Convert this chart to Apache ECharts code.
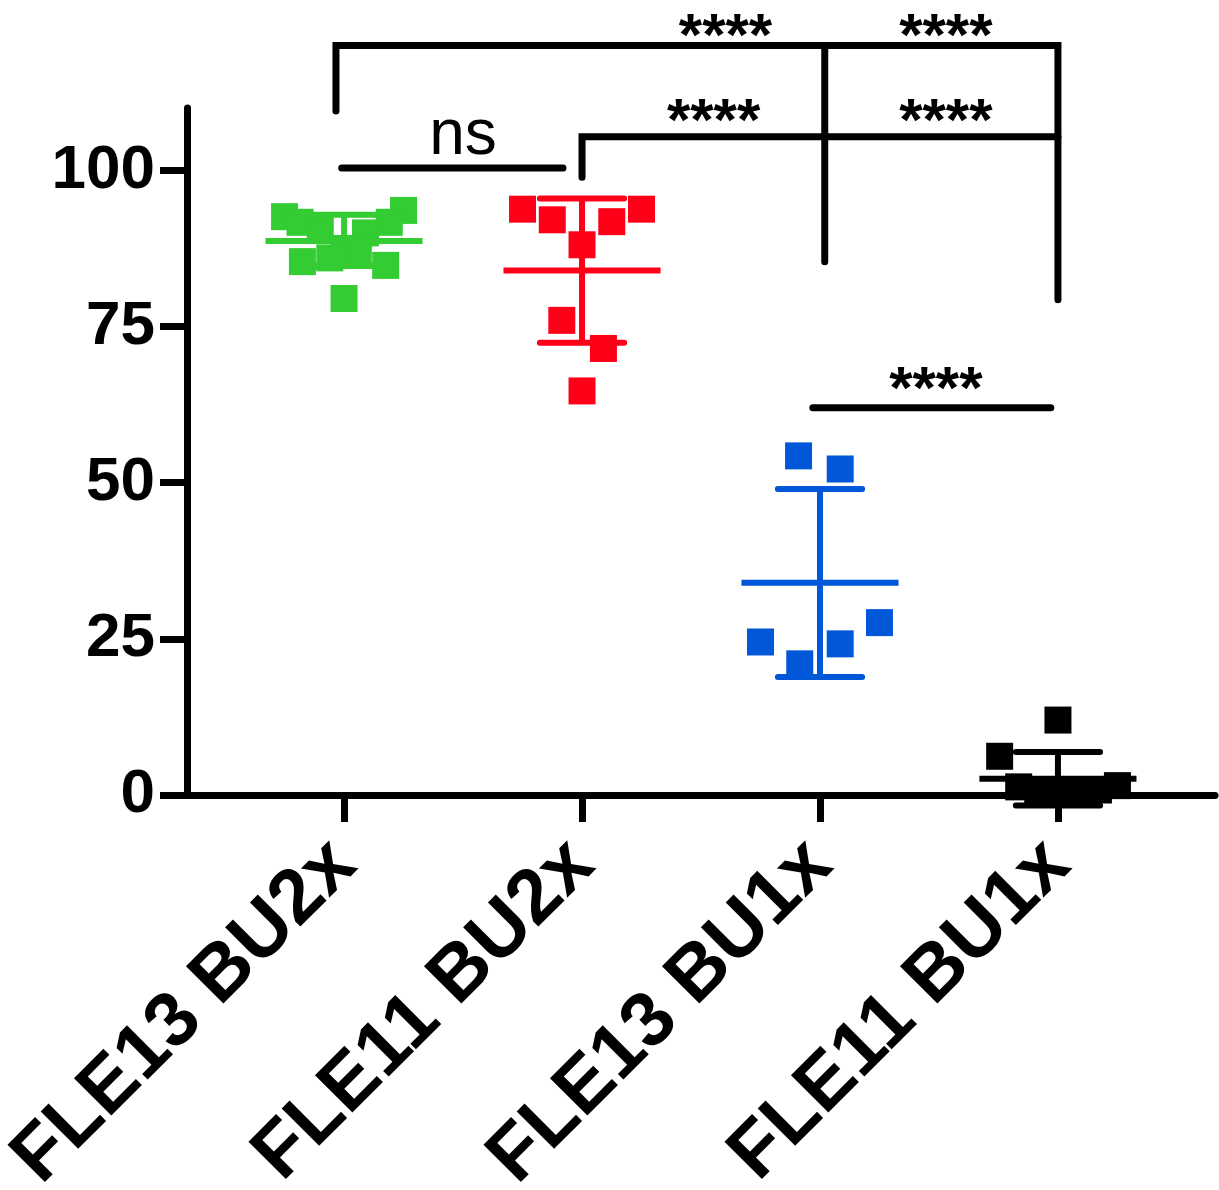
<!DOCTYPE html>
<html>
<head>
<meta charset="utf-8">
<script src="https://cdn.jsdelivr.net/npm/echarts@6/dist/echarts.min.js"></script>
<style>
  html, body { margin: 0; padding: 0; background: #fff; }
  #chart { width: 1219px; height: 1190px; }
</style>
</head>
<body>
<div id="chart"></div>
<script>
// Groups along the x axis (placed at x = 1..4)
const categories = ['FLE13 BU2x', 'FLE11 BU2x', 'FLE13 BU1x', 'FLE11 BU1x'];
const yTickValues = [0, 25, 50, 75, 100];

// Individual measurements per group, with their horizontal scatter offsets
const fle13Bu2xValues = [92.6, 91.7, 93.6, 91.7, 85.4, 84.8, 79.5, 90.5, 87.5, 90.0, 86.0, 87.0];
const fle13Bu2xOffsets = [-0.25, -0.185, 0.25, 0.19, -0.175, 0.175, 0, -0.10, 0, 0.09, -0.06, 0.06];

const fle11Bu2xValues = [93.8, 92.1, 93.8, 91.8, 88.1, 76.0, 71.5, 64.7];
const fle11Bu2xOffsets = [-0.25, -0.125, 0.25, 0.125, 0, -0.085, 0.09, 0];

const fle13Bu1xValues = [54.3, 52.2, 27.6, 24.5, 24.2, 21.0];
const fle13Bu1xOffsets = [-0.09, 0.085, 0.25, -0.25, 0.085, -0.085];

const fle11Bu1xValues = [12.0, 6.2, 1.3, 0.8, 0.5, 0.5, 0.8, 1.5];
const fle11Bu1xOffsets = [0, -0.245, -0.165, -0.085, 0, 0.085, 0.17, 0.25];

// Mean and mean ± SD per group
const groupMeans = [88.7, 84.0, 34.0, 2.6];
const groupSdLow = [84.7, 72.4, 18.9, -1.7];
const groupSdHigh = [92.9, 95.5, 49.0, 6.9];

// Significance brackets: polylines given as [group position, value] pairs
const bracketPaths = [
  [[0.966, 109.5], [0.966, 120.0], [4.0, 120.0], [4.0, 79.3]],
  [[3.02, 120.0], [3.02, 85.4]],
  [[2.0, 98.9], [2.0, 105.4], [4.0, 105.4]],
  [[0.99, 100.4], [1.92, 100.4]],
  [[2.97, 62.0], [3.97, 62.0]]
];
const sigLabels = ['****', '****', '****', '****', '****', 'ns'];
const sigLabelX = [2.603, 3.529, 2.553, 3.529, 3.487, 1.50];
const sigLabelY = [121.2, 121.2, 107.6, 107.6, 64.6, 105.4];

const groupColors = ['#33cc33', '#ff0019', '#0058d8', '#000000'];
const FONT = '"Liberation Sans", Arial, Helvetica, sans-serif';

const groups = [
  [fle13Bu2xValues, fle13Bu2xOffsets],
  [fle11Bu2xValues, fle11Bu2xOffsets],
  [fle13Bu1xValues, fle13Bu1xOffsets],
  [fle11Bu1xValues, fle11Bu1xOffsets]
];

const series = [];

// mean line, SD whisker and caps for each group
series.push({
  type: 'custom',
  clip: false,
  silent: true,
  z: 2,
  data: groupMeans.map((m, i) => [i + 1, m, groupSdLow[i], groupSdHigh[i], i]),
  renderItem(params, api) {
    const x = api.value(0), m = api.value(1), lo = api.value(2), hi = api.value(3);
    const color = groupColors[api.value(4)];
    const meanHalf = 0.33, capHalf = 0.177;
    const seg = (a, b, cap) => {
      const p1 = api.coord(a), p2 = api.coord(b);
      return {
        type: 'line',
        shape: { x1: p1[0], y1: p1[1], x2: p2[0], y2: p2[1] },
        style: { stroke: color, lineWidth: 6, lineCap: cap }
      };
    };
    return {
      type: 'group',
      children: [
        seg([x, lo], [x, hi], 'butt'),
        seg([x - capHalf, hi], [x + capHalf, hi], 'round'),
        seg([x - capHalf, lo], [x + capHalf, lo], 'round'),
        seg([x - meanHalf, m], [x + meanHalf, m], 'butt')
      ]
    };
  }
});

// individual points
groups.forEach(([vals, offs], i) => {
  series.push({
    type: 'scatter',
    name: categories[i],
    clip: false,
    silent: true,
    z: 3,
    symbol: 'rect',
    symbolSize: 27,
    itemStyle: { color: groupColors[i], opacity: 1 },
    data: vals.map((v, k) => [i + 1 + offs[k], v])
  });
});

// significance brackets
bracketPaths.forEach(path => {
  series.push({
    type: 'line',
    clip: false,
    silent: true,
    z: 4,
    symbol: 'none',
    data: path,
    lineStyle: { color: '#000', width: 7, cap: 'round', join: 'miter' }
  });
});

// significance labels
series.push({
  type: 'custom',
  clip: false,
  silent: true,
  z: 5,
  data: sigLabels.map((t, i) => [sigLabelX[i], sigLabelY[i], i]),
  renderItem(params, api) {
    const p = api.coord([api.value(0), api.value(1)]);
    const t = sigLabels[api.value(2)];
    const isNs = t === 'ns';
    return {
      type: 'text',
      x: p[0], y: p[1],
      style: {
        text: t,
        fill: '#000',
        font: (isNs ? 'normal 64px ' : 'bold 60px ') + FONT,
        align: 'center',
        verticalAlign: 'middle'
      }
    };
  }
});

const chart = echarts.init(document.getElementById('chart'), null, { renderer: 'canvas' });
chart.setOption({
  backgroundColor: '#fff',
  animation: false,
  grid: { left: 187, right: 4, top: 108, bottom: 395, containLabel: false, outerBoundsMode: 'none' },
  xAxis: {
    type: 'value',
    min: 0.34,
    max: 4.66,
    splitLine: { show: false },
    axisLine: { show: true, onZero: false, lineStyle: { color: '#000', width: 7 } },
    axisTick: { show: true, customValues: [1, 2, 3, 4], length: 27, lineStyle: { color: '#000', width: 7 } },
    axisLabel: {
      show: true,
      customValues: [1, 2, 3, 4],
      formatter: v => categories[Math.round(v) - 1] || '',
      rotate: 45,
      margin: 58,
      color: '#000',
      fontFamily: FONT,
      fontWeight: 'bold',
      fontSize: 77
    }
  },
  yAxis: {
    type: 'value',
    min: 0,
    max: 110,
    splitLine: { show: false },
    axisLine: { show: true, onZero: false, lineStyle: { color: '#000', width: 7 } },
    axisTick: { show: true, customValues: yTickValues, length: 27, lineStyle: { color: '#000', width: 7 } },
    axisLabel: {
      show: true,
      customValues: yTickValues,
      margin: 32,
      color: '#000',
      fontFamily: FONT,
      fontWeight: 'bold',
      fontSize: 62
    }
  },
  series
});
</script>
</body>
</html>
